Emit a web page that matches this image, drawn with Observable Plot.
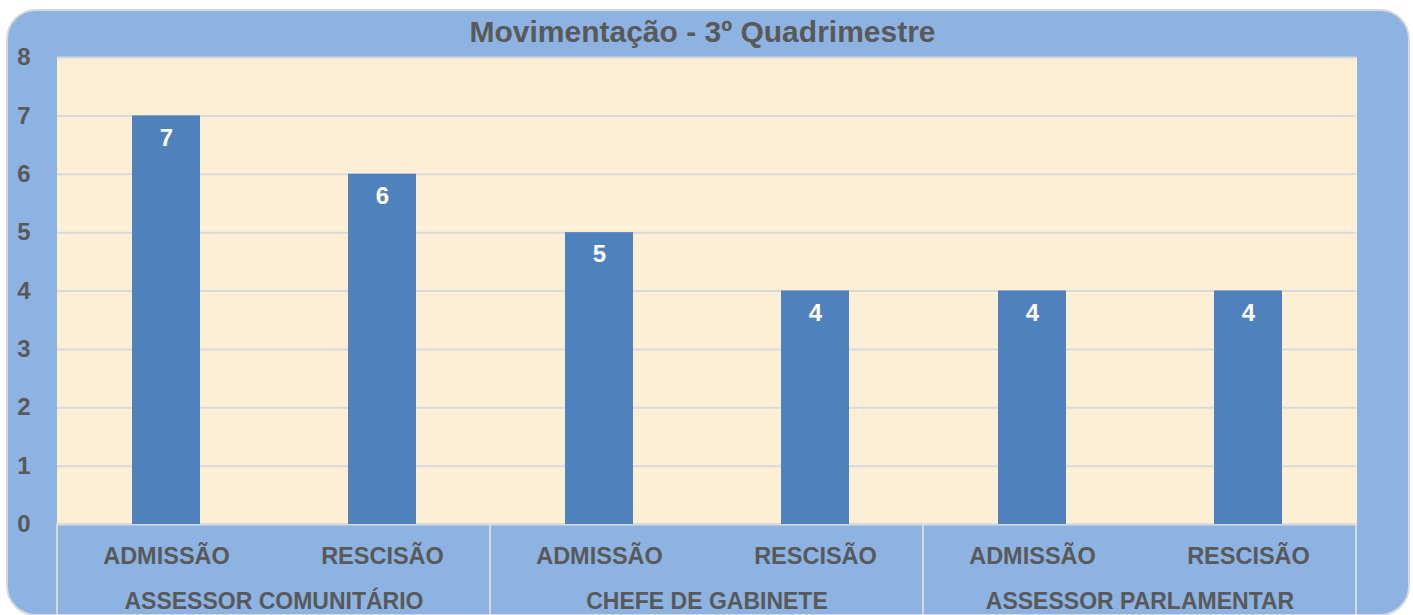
<!DOCTYPE html>
<html>
<head>
<meta charset="utf-8">
<script src="https://cdn.jsdelivr.net/npm/d3@7"></script>
<script src="https://cdn.jsdelivr.net/npm/@observablehq/plot@0.6"></script>
<style>
  html, body { margin: 0; padding: 0; background: #ffffff; }
  #wrap { position: relative; width: 1413px; height: 615px; overflow: hidden; font-family: "Liberation Sans", Arial, sans-serif; }
  #bg { position: absolute; left: 6px; top: 9px; width: 1400px; height: 603px; border-radius: 30px; background: #8db3e2; border: 2px solid #d9d9d9; }
  #title { position: absolute; left: 56px; width: 1293px; top: 15px; text-align: center; font-size: 30px; font-weight: bold; color: #595959; z-index: 2; }
  #chart { position: absolute; left: 0; top: 0; z-index: 1; }
  #chart svg { overflow: visible; }
</style>
</head>
<body>
<div id="wrap">
  <div id="bg"></div>
  <div id="title">Movimentação - 3º Quadrimestre</div>
  <div id="chart"></div>
</div>
<script>
const groups = ["ASSESSOR COMUNITÁRIO", "CHEFE DE GABINETE", "ASSESSOR PARLAMENTAR"];
const subs = ["ADMISSÃO", "RESCISÃO"];
const values = [7, 6, 5, 4, 4, 4];
const yTicks = [0, 1, 2, 3, 4, 5, 6, 7, 8];

const data = [];
groups.forEach((g, i) => subs.forEach((s, j) => data.push({group: g, sub: s, value: values[i * 2 + j]})));

const W = 1413, H = 615;
const mTop = 57, mBottom = 91, mLeft = 56, mRight = 56;
const textColor = "#595959";

const chart = Plot.plot({
  width: W,
  height: H,
  marginTop: mTop,
  marginBottom: mBottom,
  marginLeft: mLeft,
  marginRight: mRight,
  style: {background: "transparent", fontFamily: "'Liberation Sans', Arial, sans-serif", overflow: "visible"},
  fx: {domain: groups, padding: 0, axis: null},
  x: {domain: subs, paddingInner: 0.686, paddingOuter: 0.343, axis: null},
  y: {domain: [0, 8], axis: null},
  marks: [
    Plot.frame({fill: "#fcefd6", stroke: "#fcefd6", strokeWidth: 1}),
    Plot.gridY(yTicks, {stroke: "#d9d9d9", strokeOpacity: 1, strokeWidth: 2}),
    Plot.rect(groups, {fx: d => d, y1: 0, y2: 0, insetBottom: -mBottom, fill: "none", stroke: "#d9d9d9", strokeWidth: 2}),
    Plot.barY(data, {fx: "group", x: "sub", y: "value", fill: "#4f81bd"}),
    Plot.text(data, {fx: "group", x: "sub", y: "value", text: d => String(d.value), dy: 22, fill: "white", fontSize: 24, fontWeight: "bold"}),
    Plot.text(data, {fx: "group", x: "sub", text: "sub", frameAnchor: "bottom", lineAnchor: "middle", dy: 32, fill: textColor, fontSize: 23.5, fontWeight: "bold"}),
    Plot.text(groups, {fx: d => d, text: d => d, frameAnchor: "bottom", lineAnchor: "middle", dy: 77, fill: textColor, fontSize: 23, fontWeight: "bold"}),
    Plot.axisY(yTicks, {tickSize: 0, tickPadding: 27, fontSize: 24, fontWeight: "bold", color: textColor, label: null, tickFormat: d => String(d)})
  ]
});
document.getElementById("chart").appendChild(chart);
</script>
</body>
</html>
